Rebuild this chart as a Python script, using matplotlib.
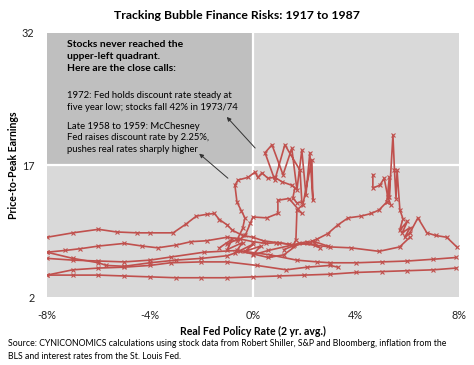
import matplotlib.pyplot as plt
from matplotlib.patches import Rectangle

plt.rcParams['font.family'] = ['Lato', 'DejaVu Sans']

# x = real Fed policy rate (%), y = price-to-peak earnings
bottom_x = [-8.0, -7.0, -6.0, -5.0, -4.0, -3.0, -2.0, -1.0, 0.0, 1.0, 2.0, 3.0, 4.0, 5.0, 6.0, 7.0, 7.9]
bottom_y = [4.5, 4.5, 4.5, 4.4, 4.3, 4.2, 4.2, 4.2, 4.3, 4.4, 4.5, 4.6, 4.8, 4.9, 5.0, 5.1, 5.3]

low_x = [-8.0, -7.0, -6.0, -5.0, -4.0, -3.2, -2.0, -1.0, 0.15, 1.3, 2.1, 3.0, 3.3]
low_y = [4.5, 5.1, 5.3, 5.4, 5.6, 5.9, 6.0, 6.0, 5.6, 5.1, 5.4, 5.6, 5.4]

mid_x = [-8.0, -7.0, -6.0, -5.0, -4.0, -3.2, -1.9, -0.6, 0.66, 1.7, 2.5, 3.0, 4.0, 5.0, 6.0, 7.0, 7.9]
mid_y = [6.4, 6.2, 6.1, 6.0, 6.2, 6.55, 7.1, 7.3, 6.8, 6.2, 6.0, 5.9, 5.9, 6.0, 6.1, 6.3, 6.5]

cross_x = [-8.0, -7.0, -6.0, -5.7, -5.0, -4.0, -3.0, -2.0, -1.0, -0.5, 0.0, 0.6, 1.2, 1.8, 2.4, 3.0, 3.8, 4.9, 5.7, 6.1]
cross_y = [7.1, 6.4, 5.9, 5.6, 5.5, 5.9, 6.2, 6.4, 6.7, 7.2, 6.9, 6.5, 6.8, 8.1, 7.9, 7.7, 7.6, 7.2, 7.7, 8.8]

upper_x = [-8.0, -7.0, -6.0, -5.3, -4.5, -4.0, -3.1, -2.6, -2.2, -1.8, -1.5, -1.3, -1.0, -0.8, -0.4, 0.0, 0.4, 0.9, 1.4]
upper_y = [8.8, 9.3, 9.7, 9.4, 9.3, 9.3, 9.3, 10.3, 11.2, 11.4, 11.5, 10.8, 10.2, 9.6, 9.0, 8.8, 8.4, 8.2, 8.0]

rise_x = [-8.0, -7.3, -6.7, -6.0, -5.0, -4.3, -3.7, -3.0, -2.4, -1.8, -1.0, -0.5, 0.0, 0.5, 1.0, 1.6, 2.1, 2.5, 2.9, 3.3, 3.7, 4.2, 4.6, 4.9, 5.2]
rise_y = [7.1, 7.3, 7.5, 7.8, 8.1, 7.8, 7.6, 7.9, 8.3, 8.4, 8.8, 8.6, 8.3, 8.1, 8.2, 7.9, 8.1, 8.6, 9.2, 10.2, 11.0, 11.2, 11.5, 11.9, 12.8]

spike_x = [5.2, 5.3, 5.3, 5.44, 5.5, 5.56, 5.6, 5.71, 5.83, 5.7, 6.0, 5.8, 6.1, 5.9, 6.1, 6.41, 6.76, 7.1, 7.53, 7.92]
spike_y = [12.8, 15.6, 13.4, 20.4, 16.4, 13.2, 16.4, 11.9, 10.9, 9.6, 10.6, 9.3, 9.9, 8.8, 9.3, 11.0, 9.3, 9.0, 8.8, 7.7]

branch_x = [4.66, 4.66, 4.93, 5.1, 5.24, 5.35]
branch_y = [15.9, 14.4, 14.7, 15.5, 13.4, 12.5]

loop_x = [-1.0, -0.6, -0.4, -0.31, -0.45, -0.62, -0.70, -0.58, -0.19, 0.08, 0.19, 0.35, 0.58, 0.85, 1.13,
          1.51, 1.63, 1.55, 1.71, 1.90, 1.83, 1.24, 0.85, 0.47, 0.74, 1.17, 1.51, 1.71, 1.90, 2.06, 2.21,
          2.33, 2.29, 1.94, 1.71, 1.67, 1.55, 1.2]
loop_y = [8.0, 8.6, 9.8, 11.0, 11.8, 12.8, 14.7, 15.3, 15.6, 16.2, 15.6, 16.1, 15.5, 15.6, 15.1,
          14.7, 14.4, 13.25, 12.7, 12.8, 16.4, 19.3, 15.3, 18.4, 19.3, 15.9, 18.9, 14.2, 18.7, 13.6, 18.4,
          13.0, 17.6, 12.5, 11.9, 8.5, 7.8, 7.4]

step_x = [1.9, 1.4, 0.97, 0.97, 0.54, 0.0, -0.1, -0.3, -0.6]
step_y = [11.5, 13.2, 13.0, 11.5, 11.0, 11.1, 10.4, 9.0, 8.4]

knot_x = [-1.3, -0.8, -1.0, -0.4, -0.7, 0.0, -0.3, 0.3, 0.0, 0.6, 2.1, 2.6, 2.3, 2.9]
knot_y = [7.6, 8.6, 7.4, 8.2, 7.0, 8.0, 7.2, 7.8, 6.8, 7.3, 8.3, 7.6, 8.4, 7.8]

series = [(bottom_x, bottom_y), (low_x, low_y), (mid_x, mid_y), (cross_x, cross_y),
          (upper_x, upper_y), (rise_x, rise_y), (spike_x, spike_y), (branch_x, branch_y),
          (loop_x, loop_y), (step_x, step_y), (knot_x, knot_y)]

x_ticks = [-8, -4, 0, 4, 8]
x_labels = ['-8%', '-4%', '0%', '4%', '8%']
y_ticks = [2, 17, 32]

red = '#c0504d'

fig = plt.figure(figsize=(4.74, 3.65), dpi=100)
ax = fig.add_axes([0.0992, 0.186, 0.8688, 0.7236])
ax.set_facecolor('#d9d9d9')
ax.add_patch(Rectangle((-8, 17), 8, 15, facecolor='#bfbfbf', edgecolor='none', zorder=0))
ax.axhline(17, color='white', lw=1.6, zorder=1)
ax.axvline(0, color='white', lw=1.6, zorder=1)

for sx, sy in series:
    ax.plot(sx, sy, color=red, lw=1.2, marker='x', ms=3.5, mew=0.8, zorder=3)

ax.set_xlim(-8, 8)
ax.set_ylim(2, 32)
ax.set_xticks(x_ticks)
ax.set_xticklabels(x_labels)
ax.set_yticks(y_ticks)
for s in ax.spines.values():
    s.set_visible(False)
ax.tick_params(length=0, labelsize=7.8, colors='#222222')
ax.tick_params(axis='x', pad=9)
ax.tick_params(axis='y', pad=9)

ax.set_xlabel('Real Fed Policy Rate (2 yr. avg.)', fontsize=7.6, fontweight='bold', labelpad=4)
ax.set_ylabel('Price-to-Peak Earnings', fontsize=7.6, fontweight='bold', labelpad=2)
fig.text(0.5, 0.958, 'Tracking Bubble Finance Risks: 1917 to 1987', ha='center', va='center',
         fontsize=8.8, fontweight='bold')

ax.text(-7.22, 31.2, 'Stocks never reached the\nupper-left quadrant.\nHere are the close calls:',
        fontsize=7.4, fontweight='bold', va='top', linespacing=1.45)
ax.text(-7.22, 25.4, '1972: Fed holds discount rate steady at\nfive year low; stocks fall 42% in 1973/74',
        fontsize=6.8, va='top', linespacing=1.35)
ax.text(-7.22, 21.9, 'Late 1958 to 1959: McChesney\nFed raises discount rate by 2.25%,\npushes real rates sharply higher',
        fontsize=6.8, va='top', linespacing=1.35)

arrow = dict(arrowstyle='-|>', color='#333333', lw=0.7, mutation_scale=6)
ax.annotate('', xy=(-1.09, 22.7), xytext=(0.16, 18.7), arrowprops=arrow)
ax.annotate('', xy=(-2.17, 18.5), xytext=(-0.89, 15.3), arrowprops=arrow)

fig.text(0.017, 0.042, 'Source: CYNICONOMICS calculations using stock data from Robert Shiller, S&P and Bloomberg, inflation from the\nBLS and interest rates from the St. Louis Fed.',
         fontsize=6.3, va='center', linespacing=1.55)

fig.savefig('out.png', dpi=100)
